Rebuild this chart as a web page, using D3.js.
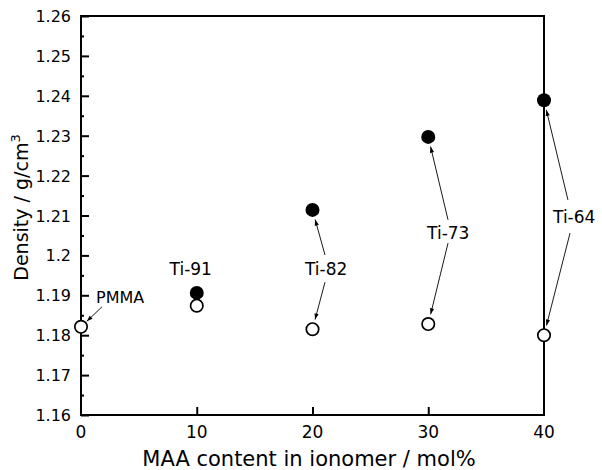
<!DOCTYPE html>
<html>
<head>
<meta charset="utf-8">
<script src="https://cdn.jsdelivr.net/npm/d3@7/dist/d3.min.js"></script>
<style>
  body { margin: 0; background: #fff; }
  text { font-family: "DejaVu Sans", sans-serif; fill: #000; }
</style>
</head>
<body>
<svg id="chart"></svg>
<script>
// data
const mol = [0, 10, 20, 30, 40];
const densityFilled = [null, 1.1906, 1.2114, 1.2297, 1.2389];
const densityOpen = [1.1821, 1.1874, 1.1815, 1.1828, 1.1800];
const sampleNames = ["PMMA", "Ti-91", "Ti-82", "Ti-73", "Ti-64"];
const xTicks = [0, 10, 20, 30, 40];
const yTicks = [1.16, 1.17, 1.18, 1.19, 1.2, 1.21, 1.22, 1.23, 1.24, 1.25, 1.26];

// label positions in data units, arrows go from near the label to a marker
const labels = [
  { text: "PMMA", x: 1.3, y: 1.1880, size: 16, arrows: [{ from: [1.81, 1.1871], to: 0, kind: "open" }] },
  { text: "Ti-91", x: 7.65, y: 1.1950, size: 17, arrows: [] },
  { text: "Ti-82", x: 19.35, y: 1.1951, size: 17, arrows: [
      { from: [21.08, 1.2001], to: 2, kind: "filled" },
      { from: [21.08, 1.1933], to: 2, kind: "open" }] },
  { text: "Ti-73", x: 29.9, y: 1.2041, size: 17, arrows: [
      { from: [31.71, 1.2089], to: 3, kind: "filled" },
      { from: [31.71, 1.2031], to: 3, kind: "open" }] },
  { text: "Ti-64", x: 40.78, y: 1.2081, size: 17, arrows: [
      { from: [42.07, 1.2139], to: 4, kind: "filled" },
      { from: [42.25, 1.2056], to: 4, kind: "open" }] }
];

const width = 602, height = 470;
const margin = { left: 81, right: 58, top: 16, bottom: 55 };

const svg = d3.select("#chart")
  .attr("width", width)
  .attr("height", height);

const x = d3.scaleLinear().domain([0, 40]).range([margin.left, width - margin.right]);
const y = d3.scaleLinear().domain([1.16, 1.26]).range([height - margin.bottom, margin.top]);

svg.append("defs").append("marker")
  .attr("id", "head")
  .attr("viewBox", "0 0 10 10")
  .attr("refX", 10).attr("refY", 5)
  .attr("markerWidth", 9).attr("markerHeight", 6)
  .attr("markerUnits", "userSpaceOnUse")
  .attr("orient", "auto")
  .append("path")
  .attr("d", "M0,1.5 L10,5 L0,8.5 Z")
  .attr("fill", "#000");

// frame
svg.append("rect")
  .attr("x", x(0)).attr("y", y(1.26))
  .attr("width", x(40) - x(0)).attr("height", y(1.16) - y(1.26))
  .attr("fill", "none").attr("stroke", "#000").attr("stroke-width", 2);

// left axis, ticks inside
svg.append("g")
  .attr("transform", `translate(${x(0)},0)`)
  .call(d3.axisRight(y).tickValues(yTicks).tickSize(8).tickFormat(""))
  .call(g => g.select(".domain").remove())
  .call(g => g.selectAll("line").attr("stroke-width", 2));

svg.append("g")
  .attr("transform", `translate(${x(0)},0)`)
  .call(d3.axisRight(y).tickValues(d3.range(0, 10).map(i => 1.165 + i * 0.01)).tickSize(3).tickFormat(""))
  .call(g => g.select(".domain").remove())
  .call(g => g.selectAll("line").attr("stroke-width", 2));

svg.append("g")
  .selectAll("text")
  .data(yTicks)
  .join("text")
  .attr("x", x(0) - 10)
  .attr("y", d => y(d) + 6)
  .attr("text-anchor", "end")
  .attr("font-size", 16)
  .text(d => d3.format(".2f")(d).replace(/0$/, "").replace(/\.$/, ""));

// bottom axis, ticks inside
svg.append("g")
  .attr("transform", `translate(0,${y(1.16)})`)
  .call(d3.axisTop(x).tickValues(xTicks.slice(1, -1)).tickSize(8).tickFormat(""))
  .call(g => g.select(".domain").remove())
  .call(g => g.selectAll("line").attr("stroke-width", 2));

svg.append("g")
  .selectAll("text")
  .data(xTicks)
  .join("text")
  .attr("x", d => x(d))
  .attr("y", y(1.16) + 23)
  .attr("text-anchor", "middle")
  .attr("font-size", 17)
  .text(d => d);

// axis titles
svg.append("text")
  .attr("x", 309)
  .attr("y", 466)
  .attr("text-anchor", "middle")
  .attr("font-size", 21)
  .text("MAA content in ionomer / mol%");

const yt = svg.append("text")
  .attr("transform", `translate(28,${(y(1.16) + y(1.26)) / 2 - 8}) rotate(-90)`)
  .attr("text-anchor", "middle")
  .attr("font-size", 19)
  .text("Density / g/cm");
yt.append("tspan").attr("font-size", 13).attr("dy", -8).text("3");

// arrows
labels.forEach(l => {
  l.arrows.forEach(a => {
    const vals = a.kind === "filled" ? densityFilled : densityOpen;
    const tx = x(mol[a.to]), ty = y(vals[a.to]);
    const fx = x(a.from[0]), fy = y(a.from[1]);
    const dx = tx - fx, dy = ty - fy, len = Math.hypot(dx, dy);
    const r = a.to === 0 ? 8 : 10;
    svg.append("line")
      .attr("x1", fx).attr("y1", fy)
      .attr("x2", tx - dx / len * r).attr("y2", ty - dy / len * r)
      .attr("stroke", "#000").attr("stroke-width", 0.9)
      .attr("marker-end", "url(#head)");
  });
});

// labels
svg.append("g")
  .selectAll("text")
  .data(labels)
  .join("text")
  .attr("x", d => x(d.x))
  .attr("y", d => y(d.y))
  .attr("font-size", d => d.size)
  .text(d => d.text);

// markers
const openPts = mol.map((m, i) => ({ m, v: densityOpen[i] }));
const filledPts = mol.map((m, i) => ({ m, v: densityFilled[i] })).filter(d => d.v !== null);

svg.append("g")
  .selectAll("circle")
  .data(openPts)
  .join("circle")
  .attr("cx", d => x(d.m)).attr("cy", d => y(d.v))
  .attr("r", 6.2)
  .attr("fill", "#fff").attr("stroke", "#000").attr("stroke-width", 1.7);

svg.append("g")
  .selectAll("circle")
  .data(filledPts)
  .join("circle")
  .attr("cx", d => x(d.m)).attr("cy", d => y(d.v))
  .attr("r", 7)
  .attr("fill", "#000");
</script>
</body>
</html>
